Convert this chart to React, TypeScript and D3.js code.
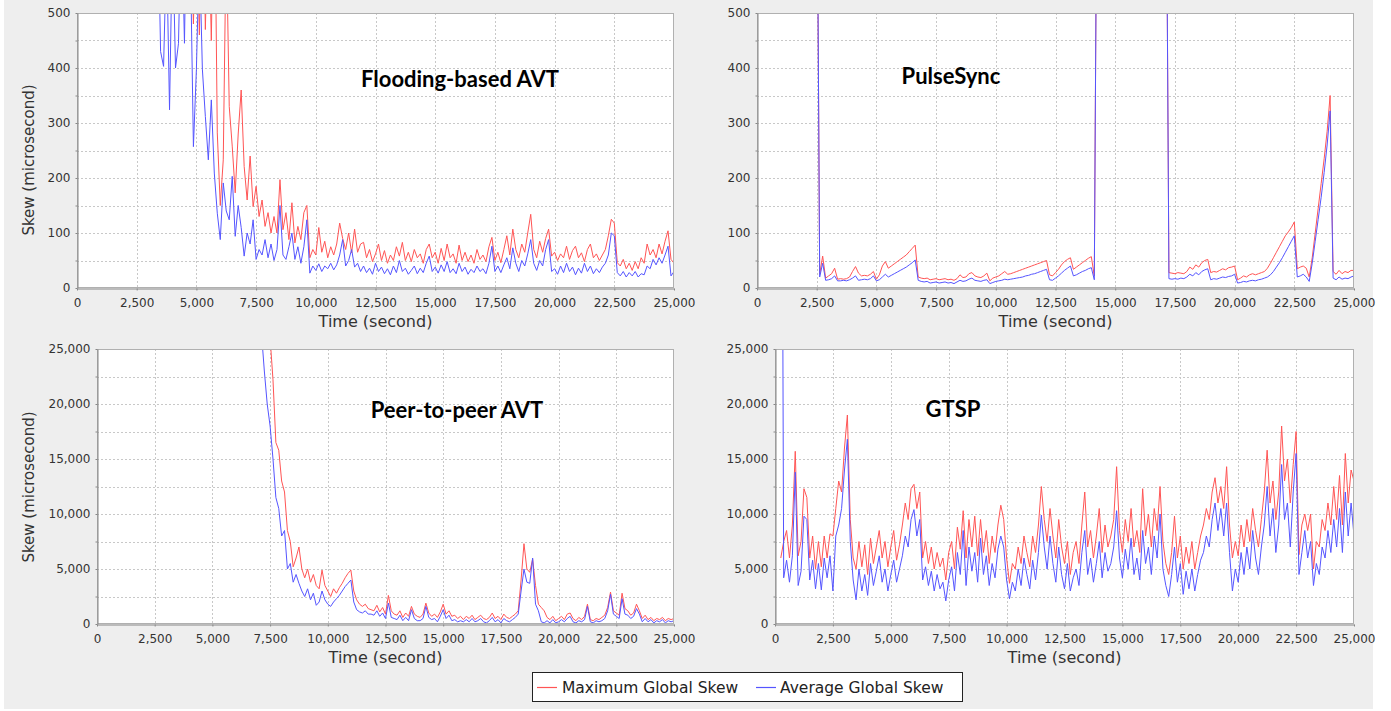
import { useEffect, useRef } from 'react'
import { axisBottom, axisLeft, format, line, range, scaleLinear, select } from 'd3'

const red = '#ff5555'
const blue = '#5555ff'
const timeTicks = [0, 2500, 5000, 7500, 10000, 12500, 15000, 17500, 20000, 22500, 25000]
const legendNames = ['Maximum Global Skew', 'Average Global Skew']

// Flooding-based AVT, one sample every 125 s from 3,000 s
const floodStart = 3000
const floodMax = [
  null, null, null, null, null, null, null, null,
  null, null, null, null, null, null, 700, 480,
  700, 460, 800, 470, 700, 450, 800, 282,
  150, 233, 650, 330, 258, 173, 280, 360,
  221, 160, 240, 148, 185, 130, 160, 112,
  137, 100, 130, 100, 197, 106, 137, 88,
  155, 82, 112, 88, 137, 150, 55, 70,
  60, 110, 65, 85, 55, 75, 60, 80,
  118, 90, 70, 100, 64, 107, 65, 80,
  83, 55, 70, 48, 62, 80, 50, 68,
  45, 60, 50, 75, 58, 83, 50, 65,
  48, 70, 55, 62, 45, 70, 80, 55,
  65, 45, 72, 50, 80, 55, 62, 45,
  78, 50, 65, 48, 60, 45, 70, 52,
  60, 48, 75, 92, 50, 65, 46, 70,
  95, 60, 107, 70, 55, 80, 65, 100,
  134, 70, 55, 85, 65, 90, 107, 58,
  65, 50, 62, 55, 76, 52, 68, 76,
  55, 64, 48, 70, 80, 55, 62, 50,
  60, 70, 95, 125, 118, 46, 40, 52,
  35, 45, 32, 48, 35, 55, 45, 80,
  60, 70, 55, 80, 62, 85, 104, 52,
  45,
]
const floodAvg = [
  null, null, null, 720, 430, 403, 620, 324,
  650, 400, 445, 700, 445, 800, 600, 257,
  397, 620, 398, 312, 233, 342, 209, 136,
  88, 191, 140, 124, 203, 94, 150, 110,
  58, 100, 80, 124, 52, 70, 60, 88,
  55, 80, 50, 70, 150, 60, 52, 75,
  100, 52, 75, 45, 75, 124, 27, 40,
  32, 44, 30, 40, 35, 45, 33, 42,
  60, 88, 40, 50, 70, 38, 45, 30,
  40, 28, 36, 25, 45, 30, 38, 26,
  35, 24, 40, 28, 50, 30, 36, 25,
  32, 40, 26, 36, 28, 45, 58, 30,
  38, 27, 42, 30, 48, 28, 35, 26,
  45, 30, 38, 25, 34, 28, 40, 30,
  35, 26, 45, 76, 30, 40, 28, 42,
  55, 35, 73, 45, 30, 50, 40, 62,
  88, 45, 32, 50, 40, 70, 88, 30,
  35, 25, 40, 28, 45, 30, 38, 24,
  36, 27, 45, 30, 40, 26, 35, 28,
  38, 45, 60, 100, 95, 28, 22, 30,
  20, 28, 22, 30, 20, 26, 24, 40,
  35, 52, 42, 55, 45, 60, 76, 22,
  30,
]

// PulseSync, one sample every 125 s from 2,000 s
const pulseStart = 2000
const pulseMax = [
  null, null, null, null, 900, 25, 58, 18,
  22, 26, 36, 16, 17, 16, 17, 20,
  30, 39, 27, 22, 23, 22, 25, 30,
  16, 24, 40, 48, 36, 40, 44, 48,
  52, 56, 60, 66, 72, 78, 20, 18,
  17, 18, 15, 16, 17, 15, 16, 17,
  15, 16, 14, 17, 24, 19, 20, 26,
  28, 22, 20, 19, 22, 27, 13, 18,
  20, 22, 26, 30, 25, 26, 28, 30,
  32, 34, 36, 38, 40, 42, 44, 46,
  48, 50, 24, 22, 28, 34, 42, 48,
  52, 55, 34, 38, 42, 46, 50, 54,
  57, 22, 900, null, null, null, null, null,
  null, null, null, null, null, null, null, null,
  null, null, null, null, null, null, null, null,
  null, 900, 28, 27, 26, 28, 27, 26,
  30, 38, 34, 42, 38, 46, 50, 52,
  28, 30, 29, 32, 35, 33, 37, 38,
  40, 15, 18, 22, 20, 24, 26, 24,
  26, 28, 30, 36, 45, 55, 65, 75,
  85, 95, 102, 110, 120, 35, 38, 40,
  36, 20, 55, 100, 145, 190, 235, 285,
  350, 30, 25, 32, 26, 30, 28, 32,
  32,
]
const pulseAvg = [
  null, null, null, null, 900, 20, 45, 14,
  15, 17, 22, 13, 13, 14, 13, 15,
  18, 22, 14, 15, 16, 15, 17, 22,
  13, 15, 20, 25, 20, 23, 26, 29,
  32, 35, 38, 42, 46, 51, 14, 12,
  11, 12, 9, 10, 11, 9, 10, 11,
  9, 10, 8, 11, 14, 12, 13, 16,
  18, 14, 13, 12, 14, 15, 8, 10,
  12, 13, 14, 16, 15, 16, 17, 18,
  19, 20, 22, 23, 25, 26, 28, 30,
  32, 34, 15, 14, 18, 22, 27, 32,
  36, 40, 22, 24, 27, 30, 32, 35,
  37, 15, 900, null, null, null, null, null,
  null, null, null, null, null, null, null, null,
  null, null, null, null, null, null, null, null,
  null, 900, 17, 16, 17, 16, 18, 17,
  20, 25, 22, 28, 24, 30, 33, 35,
  15, 17, 16, 18, 20, 19, 21, 22,
  25, 9, 10, 12, 11, 13, 14, 13,
  15, 16, 18, 20, 24, 30, 38, 46,
  55, 65, 75, 85, 95, 20, 22, 25,
  20, 12, 45, 85, 125, 165, 210, 260,
  322, 18, 15, 20, 16, 18, 17, 20,
  22,
]

// Peer-to-peer AVT, one sample every 125 s from 7,000 s
const peerStart = 7000
const peerMax = [
  null, null, null, null, 26000, 22200, 16500, 15800,
  13000, 12000, 8500, 7500, 5200, 6000, 7000, 5000,
  4200, 5000, 3800, 4500, 3500, 3200, 4900, 3500,
  3000, 2500, 3200, 2800, 3300, 3700, 4200, 4600,
  4900, 3000, 2200, 1800, 1600, 1800, 1400, 1300,
  1200, 1700, 1100, 1500, 900, 2600, 1200, 900,
  800, 1200, 600, 1000, 700, 1600, 900, 700,
  600, 900, 1900, 1000, 700, 900, 600, 1100,
  1800, 900, 1200, 700, 800, 500, 700, 400,
  700, 500, 800, 400, 600, 800, 500, 400,
  600, 1000, 500, 700, 400, 900, 600, 500,
  700, 900, 1200, 4000, 7300, 5000, 4700, 5900,
  3500, 1800, 1500, 1200, 600, 400, 700, 300,
  500, 700, 400, 900, 1000, 500, 300, 600,
  400, 700, 1800, 400, 300, 500, 400, 600,
  800, 1500, 2900, 1200, 1000, 800, 2800, 1400,
  1200, 800, 1000, 1800, 1200, 500, 800, 400,
  600, 300, 500, 400, 600, 300, 500, 400,
  500,
]
const peerAvg = [
  null, 26500, 23000, 20000, 18000, 15000, 11500, 10500,
  8000, 8500, 5000, 5500, 3800, 4500, 3700, 3000,
  2500, 3200, 2200, 2800, 1700, 2000, 3000, 2200,
  1800, 1600, 2000, 2300, 2600, 3000, 3400, 3700,
  4000, 2000, 1300, 1100, 1000, 1200, 900, 900,
  800, 1200, 700, 1000, 500, 1900, 600, 500,
  400, 800, 300, 600, 300, 1300, 500, 300,
  300, 500, 1600, 600, 400, 500, 200, 700,
  1300, 500, 800, 300, 400, 200, 300, 200,
  400, 200, 500, 200, 300, 500, 200, 100,
  300, 600, 200, 400, 100, 500, 300, 200,
  400, 600, 900, 3000, 5000, 3800, 3700, 6000,
  1800, 1200, 200, 100, 300, 100, 400, 100,
  200, 400, 200, 500, 700, 200, 100, 300,
  200, 400, 1600, 200, 100, 300, 200, 300,
  500, 1200, 2700, 900, 700, 500, 2300, 900,
  800, 500, 700, 1400, 900, 200, 500, 200,
  400, 100, 300, 200, 400, 100, 300, 200,
  300,
]

// GTSP, one sample every 125 s from 0 s
const gtspStart = 0
const gtspMax = [
  null, null, 6000, 7500, 8500, 6000, 9000, 15700,
  6200, 7500, 12300, 11500, 6000, 8000, 5000, 7500,
  5200, 8000, 6000, 8200, 8000, 10500, 13000, 12000,
  16000, 19000, 9500, 6000, 5000, 7500, 5200, 7200,
  4500, 7800, 5500, 7000, 8500, 6000, 7500, 5200,
  7000, 8500, 5800, 7200, 9000, 11000, 9500, 12300,
  12700, 10500, 12000, 6000, 7500, 5500, 7000, 5000,
  6500, 5200, 6000, 4000, 6500, 7500, 5000, 8800,
  6800, 10300, 6000, 9500, 7000, 9800, 6200, 9500,
  6500, 8500, 5500, 8000, 6500, 9000, 10800, 9500,
  6000, 3700, 5500, 5000, 7000, 5500, 8000, 6500,
  5200, 8000, 6500, 9000, 12500, 9500, 7500, 10500,
  8000, 6000, 9500, 7000, 5500, 7500, 4500, 6500,
  7500, 5500, 9000, 12000, 7000, 8500, 6000, 8000,
  10500, 6500, 9000, 7000, 8000, 9500, 14300, 8500,
  6500, 9500, 7500, 10500, 7000, 8500, 6500, 12300,
  8000, 10000, 7000, 10500, 8500, 12500, 7500, 5500,
  4500, 6500, 9800, 6000, 8000, 5000, 7000, 5500,
  7500, 5000, 6500, 8000, 9000, 10500, 9500, 12000,
  13300, 11000, 12500, 10500, 14300, 9000, 6000, 7500,
  6200, 9000, 7000, 9500, 7500, 10500, 8500, 7000,
  9500, 12000, 15800, 11000, 13000, 9500, 12000, 18000,
  13000, 15000, 11000, 14500, 17500, 6300, 9000, 10000,
  8500, 10000, 5000, 7500, 7000, 9500, 8500, 11000,
  9000, 12500, 9500, 13500, 9000, 15500, 11000, 14000,
  13000,
]
const gtspAvg = [
  null, null, 80000, 4200, 5800, 3800, 6200, 13800,
  3500, 4800, 9800, 9500, 4000, 5800, 3200, 5500,
  3100, 6000, 4200, 6200, 3000, 8000, 9000, 10500,
  14000, 16800, 7500, 4000, 2200, 5000, 3000, 4500,
  2600, 5500, 3500, 4800, 6200, 3800, 5000, 3000,
  4500, 5800, 3800, 5000, 6200, 8000, 7000, 9500,
  10400, 8000, 9500, 4000, 5200, 3500, 4800, 3000,
  4500, 3200, 3800, 2100, 4000, 5200, 3000, 6500,
  4500, 8500, 3500, 7000, 4800, 6500, 3800, 7800,
  4500, 6200, 3500, 5500, 4200, 6800, 8000, 7000,
  4000, 2300, 3800, 3000, 5000, 3500, 6000, 4500,
  3200, 5800, 4000, 6500, 9900, 7000, 5000, 8000,
  5500, 3800, 7000, 4500, 3200, 5500, 3000, 4200,
  5000, 3500, 6500, 8500, 4500, 6000, 3800, 5500,
  7500, 4200, 6500, 4800, 5500, 7000, 10300, 6000,
  4200, 6800, 5000, 7800, 4500, 6000, 4000, 8500,
  5500, 7000, 4500, 8000, 6000, 10000, 5000, 3500,
  2500, 4500, 7000, 3800, 5500, 2700, 4800, 3200,
  5000, 3000, 4500, 5800, 6500, 8000, 7000, 9500,
  11000, 8500, 10500, 8000, 11000, 6500, 3000, 5000,
  3800, 6500, 4500, 7000, 5000, 8500, 6000, 4500,
  7000, 9000, 12500, 8000, 10500, 6500, 9000, 14500,
  9500, 11000, 7000, 12000, 15500, 4500, 6500, 8500,
  6000, 7500, 3500, 5500, 4500, 7000, 6000, 8500,
  6500, 9500, 7000, 10500, 6500, 12000, 8000, 11000,
  8000,
]

type Pt = { t: number; v: number | null }

const panels = [
  { title: 'Flooding-based AVT', start: floodStart, step: 125, maxS: floodMax, avgS: floodAvg, yTop: 500, labelEvery: 100, gridEvery: 50, box: [77, 13, 674, 288], titleAt: [460, 87], yLabelAt: 160 },
  { title: 'PulseSync', start: pulseStart, step: 125, maxS: pulseMax, avgS: pulseAvg, yTop: 500, labelEvery: 100, gridEvery: 50, box: [757, 13, 1354, 288], titleAt: [951, 84], yLabelAt: null },
  { title: 'Peer-to-peer AVT', start: peerStart, step: 125, maxS: peerMax, avgS: peerAvg, yTop: 25000, labelEvery: 5000, gridEvery: 2500, box: [97, 349, 674, 624], titleAt: [457, 418], yLabelAt: 487 },
  { title: 'GTSP', start: gtspStart, step: 125, maxS: gtspMax, avgS: gtspAvg, yTop: 25000, labelEvery: 5000, gridEvery: 2500, box: [775, 349, 1354, 624], titleAt: [953, 417], yLabelAt: null },
]

const tickFont = 'DejaVu Sans, sans-serif'

const App = () => {
  const ref = useRef<SVGSVGElement | null>(null)

  useEffect(() => {
    const svg = select(ref.current)
    svg.selectAll('*').remove()

    svg.append('rect').attr('width', 1391).attr('height', 711).attr('fill', '#ffffff')
    svg.append('rect').attr('x', 4).attr('width', 1369).attr('height', 709).attr('fill', '#eeeeee')

    const comma = format(',')

    panels.forEach((p, i) => {
      const [x0, y0, x1, y1] = p.box
      const x = scaleLinear().domain([0, 25000]).range([x0, x1])
      const y = scaleLinear().domain([0, p.yTop]).range([y1, y0])
      const g = svg.append('g')

      g.append('rect')
        .attr('x', x0).attr('y', y0)
        .attr('width', x1 - x0).attr('height', y1 - y0)
        .attr('fill', '#ffffff')

      // dashed grid
      g.selectAll('line.vgrid')
        .data(timeTicks.slice(1, -1))
        .enter()
        .append('line')
        .attr('class', 'vgrid')
        .attr('x1', d => Math.round(x(d)) + 0.5).attr('x2', d => Math.round(x(d)) + 0.5)
        .attr('y1', y0).attr('y2', y1)
        .attr('stroke', '#c8c8c8').attr('stroke-dasharray', '2,2')
      g.selectAll('line.hgrid')
        .data(range(p.gridEvery, p.yTop, p.gridEvery))
        .enter()
        .append('line')
        .attr('class', 'hgrid')
        .attr('x1', x0).attr('x2', x1)
        .attr('y1', d => Math.round(y(d)) + 0.5).attr('y2', d => Math.round(y(d)) + 0.5)
        .attr('stroke', '#c8c8c8').attr('stroke-dasharray', '2,2')

      // title
      g.append('text')
        .attr('x', p.titleAt[0]).attr('y', p.titleAt[1])
        .attr('text-anchor', 'middle')
        .attr('font-family', 'Lato, sans-serif').attr('font-weight', 700).attr('font-size', 22)
        .attr('fill', '#000000')
        .text(p.title)

      const clipId = `plot-clip-${i}`
      svg.append('clipPath').attr('id', clipId)
        .append('rect')
        .attr('x', x0).attr('y', y0)
        .attr('width', x1 - x0).attr('height', y1 - y0)

      const toPts = (vals: (number | null)[]): Pt[] => vals.map((v, k) => ({ t: p.start + k * p.step, v }))
      const ln = line<Pt>()
        .defined(d => d.v != null)
        .x(d => x(d.t))
        .y(d => y(d.v as number))

      const series = [
        { vals: p.maxS, color: red },
        { vals: p.avgS, color: blue },
      ]
      series.forEach(s => {
        g.append('path')
          .datum(toPts(s.vals))
          .attr('clip-path', `url(#${clipId})`)
          .attr('d', ln)
          .attr('fill', 'none')
          .attr('stroke', s.color)
          .attr('stroke-width', 1)
          .attr('stroke-linejoin', 'round')
      })

      // plot outline
      g.append('rect')
        .attr('x', x0 + 0.5).attr('y', y0 + 0.5)
        .attr('width', x1 - x0 - 1).attr('height', y1 - y0 - 1)
        .attr('fill', 'none').attr('stroke', '#b0b0b0')

      const xAxisG = g.append('g')
        .attr('transform', `translate(0,${y1 + 0.5})`)
        .call(axisBottom(x).tickValues(timeTicks).tickFormat(d => comma(+d)).tickSize(2).tickSizeOuter(0).tickPadding(8))
      const yAxisG = g.append('g')
        .attr('transform', `translate(${x0 + 0.5},0)`)
        .call(axisLeft(y)
          .tickValues(range(0, p.yTop + 1, p.gridEvery))
          .tickFormat(d => (+d % p.labelEvery === 0 ? comma(+d) : ''))
          .tickSize(2).tickSizeOuter(0).tickPadding(5))

      ;[xAxisG, yAxisG].forEach(ax => {
        ax.select('.domain').attr('stroke', '#888888')
        ax.selectAll('.tick line').attr('stroke', '#888888')
        ax.selectAll('.tick text')
          .attr('font-family', tickFont).attr('font-size', 12).attr('fill', '#333333')
      })

      g.append('text')
        .attr('x', (x0 + x1) / 2).attr('y', y1 + 39)
        .attr('text-anchor', 'middle')
        .attr('font-family', tickFont).attr('font-size', 16).attr('fill', '#333333')
        .text('Time (second)')

      if (p.yLabelAt != null) {
        g.append('text')
          .attr('transform', `translate(34,${p.yLabelAt}) rotate(-90)`)
          .attr('text-anchor', 'middle')
          .attr('font-family', tickFont).attr('font-size', 15).attr('fill', '#333333')
          .text('Skew (microsecond)')
      }
    })

    // legend
    const lg = svg.append('g')
    lg.append('rect')
      .attr('x', 532.5).attr('y', 672.5).attr('width', 430).attr('height', 29)
      .attr('fill', '#ffffff').attr('stroke', '#222222')
    const items = [
      { name: legendNames[0], color: red, lx: 537, tx: 562 },
      { name: legendNames[1], color: blue, lx: 756, tx: 780 },
    ]
    items.forEach(it => {
      lg.append('line')
        .attr('x1', it.lx).attr('x2', it.lx + 20)
        .attr('y1', 687.5).attr('y2', 687.5)
        .attr('stroke', it.color)
        .attr('stroke-width', 1.2)
      lg.append('text')
        .attr('x', it.tx).attr('y', 693)
        .attr('font-family', tickFont).attr('font-size', 15.5).attr('fill', '#222222')
        .text(it.name)
    })
  }, [])

  return (
    <svg ref={ref} width={1391} height={711} style={{ position: 'absolute', left: 0, top: 0 }} />
  )
}

export default App
